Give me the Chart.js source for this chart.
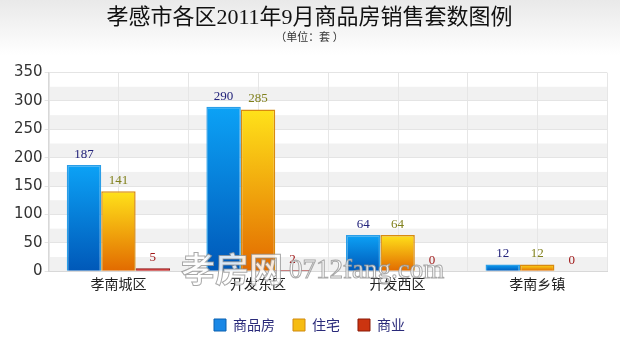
<!DOCTYPE html>
<html>
<head>
<meta charset="utf-8">
<script src="https://cdn.jsdelivr.net/npm/chart.js@4"></script>
<style>
  html, body { margin: 0; padding: 0; background: #fff; }
  #wrap { width: 620px; height: 353px; position: relative;
    background: linear-gradient(to bottom, #e9e9e9 0px, #ffffff 55px); }
</style>
</head>
<body>
<div id="wrap"><canvas id="salesChart" width="620" height="353"></canvas></div>
<script>
const districts = ["孝南城区", "开发东区", "开发西区", "孝南乡镇"]
const commercialHousing = [187, 290, 64, 12]
const residential = [141, 285, 64, 12]
const business = [5, 2, 0, 0]
const yTicks = [0, 50, 100, 150, 200, 250, 300, 350]

const serifFont = "'Liberation Serif', 'DejaVu Serif', 'Noto Sans CJK SC', serif"

// each bar gets its own top-to-bottom gradient
function barGradient(ctx, top, bottom) {
  const chart = ctx.chart
  if (!chart.chartArea || ctx.raw === undefined) return top
  const y = chart.scales.y
  const y0 = y.getPixelForValue(ctx.raw)
  const y1 = y.getPixelForValue(0)
  const g = chart.ctx.createLinearGradient(0, y0, 0, Math.max(y1, y0 + 1))
  g.addColorStop(0, top)
  g.addColorStop(1, bottom)
  return g
}

// alternating grey bands between the minor (25) lines
const bandsPlugin = {
  id: "bands",
  beforeDraw(chart) {
    const { ctx, chartArea, scales } = chart
    ctx.save()
    ctx.fillStyle = "#f1f1f1"
    for (let v = 0; v < 350; v += 50) {
      const y1 = scales.y.getPixelForValue(v + 25)
      const y0 = scales.y.getPixelForValue(v)
      ctx.fillRect(chartArea.left, y1, chartArea.right - chartArea.left, y0 - y1)
    }
    ctx.strokeStyle = "#e6e6e6"
    ctx.lineWidth = 1
    const n = districts.length
    const w = (chartArea.right - chartArea.left) / n
    for (let i = 0; i <= n * 2; i++) {
      const x = Math.round(chartArea.left + i * w / 2) + 0.5
      ctx.beginPath()
      ctx.moveTo(x, chartArea.top)
      ctx.lineTo(x, chartArea.bottom)
      ctx.stroke()
    }
    ctx.restore()
  },
}

const labelColors = ["#22227a", "#80801c", "#a01818"]
const valueLabels = {
  id: "valueLabels",
  afterDatasetsDraw(chart) {
    const ctx = chart.ctx
    ctx.save()
    ctx.font = "13px " + serifFont
    ctx.textAlign = "center"
    ctx.textBaseline = "bottom"
    chart.data.datasets.forEach((ds, i) => {
      chart.getDatasetMeta(i).data.forEach((bar, j) => {
        ctx.fillStyle = labelColors[i]
        ctx.fillText(ds.data[j], bar.x, bar.y - 4)
      })
    })
    ctx.restore()
  },
  afterDraw(chart) {
    // site watermark
    const ctx = chart.ctx
    ctx.save()
    ctx.textAlign = "left"
    ctx.textBaseline = "alphabetic"
    ctx.lineWidth = 1
    ctx.strokeStyle = "rgba(140,140,140,0.75)"
    ctx.fillStyle = "rgba(255,255,255,0.85)"
    ctx.font = "bold 34px 'Noto Sans CJK SC'"
    ctx.fillText("孝房网", 181, 282)
    ctx.strokeText("孝房网", 181, 282)
    ctx.font = "25px " + serifFont
    const w = ctx.measureText("0712fang.com").width
    const size = Math.round(25 * 158 / w)
    ctx.font = size + "px " + serifFont
    ctx.fillText("0712fang.com", 289, 278)
    ctx.strokeText("0712fang.com", 289, 278)
    ctx.restore()
  },
}

const legendColors = ["#1a88e6", "#f6bc12", "#cc3410"]
const legendBorders = ["#0a60b0", "#d08a10", "#8a1a08"]

new Chart(document.getElementById("salesChart").getContext("2d"), {
  type: "bar",
  data: {
    labels: districts,
    datasets: [
      {
        label: "商品房",
        data: commercialHousing,
        backgroundColor: (c) => barGradient(c, "#0ca2f6", "#0058b8"),
        borderColor: "#2a9ee8",
        borderWidth: 1.5,
      },
      {
        label: "住宅",
        data: residential,
        backgroundColor: (c) => barGradient(c, "#ffe21a", "#e26a00"),
        borderColor: "#d88a10",
        borderWidth: 1.5,
      },
      {
        label: "商业",
        data: business,
        backgroundColor: "#c01010",
        borderColor: "#8a1010",
        borderWidth: 1,
      },
    ],
  },
  plugins: [bandsPlugin, valueLabels],
  options: {
    responsive: false,
    animation: false,
    layout: { padding: { left: 12, right: 13, top: 0, bottom: 11 } },
    datasets: { bar: { categoryPercentage: 0.74, barPercentage: 1 } },
    scales: {
      x: {
        grid: { display: false, drawTicks: false },
        border: { color: "#d8d8d8" },
        ticks: { color: "#222", font: { size: 14, family: serifFont }, padding: 6 },
      },
      y: {
        min: 0,
        max: 350,
        afterBuildTicks: (axis) => { axis.ticks = yTicks.map((v) => ({ value: v })) },
        grid: { color: "#e4e4e4", tickLength: 4 },
        border: { color: "#d8d8d8" },
        ticks: { color: "#333", font: { size: 15, family: "'DejaVu Sans', sans-serif" }, padding: 2 },
      },
    },
    plugins: {
      title: {
        display: true,
        text: "孝感市各区2011年9月商品房销售套数图例",
        color: "#111",
        font: { size: 22, family: serifFont, weight: "normal" },
        padding: { top: 5, bottom: 0 },
      },
      subtitle: {
        display: true,
        text: "（单位：套 ）",
        color: "#333",
        font: { size: 11, family: serifFont },
        padding: { top: 0, bottom: 28 },
      },
      legend: {
        position: "bottom",
        labels: {
          boxWidth: 12,
          boxHeight: 12,
          padding: 18,
          color: "#2a2a7a",
          font: { size: 14, family: "'Noto Sans CJK SC', sans-serif" },
          generateLabels: (chart) =>
            chart.data.datasets.map((ds, i) => ({
              text: ds.label,
              fillStyle: legendColors[i],
              strokeStyle: legendBorders[i],
              lineWidth: 1,
              fontColor: "#2a2a7a",
              datasetIndex: i,
            })),
        },
      },
      tooltip: { enabled: false },
    },
  },
})
</script>
</body>
</html>
